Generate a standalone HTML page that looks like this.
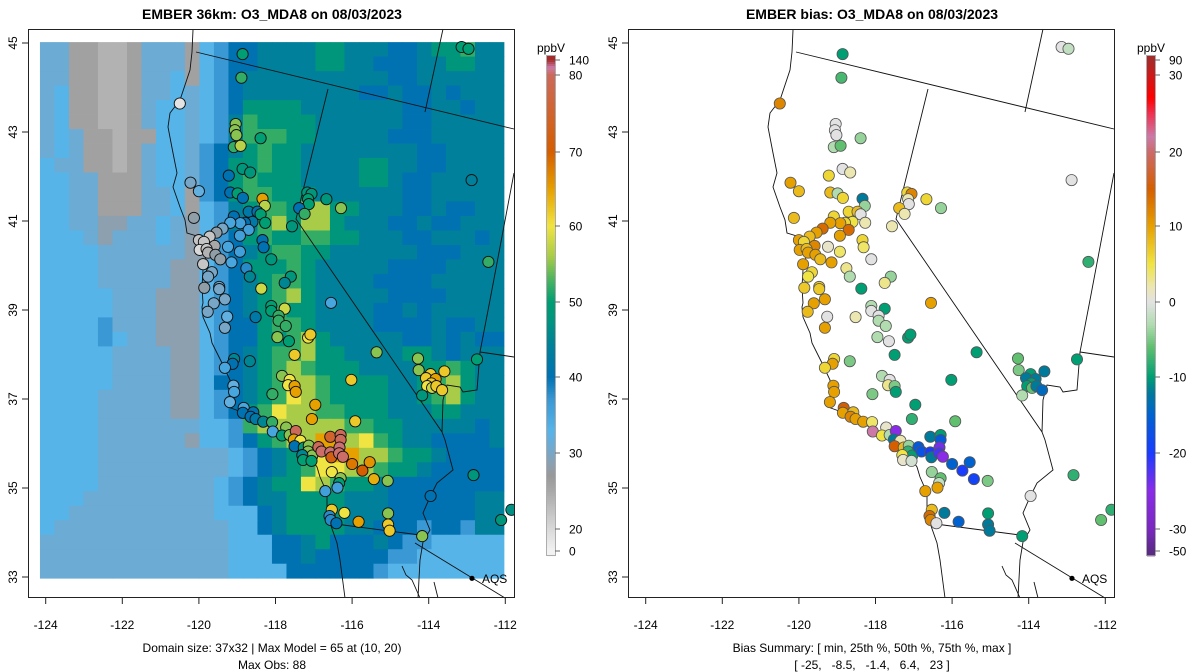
<!DOCTYPE html>
<html><head><meta charset="utf-8"><style>
html,body{margin:0;padding:0;background:#fff}
svg{display:block;font-family:"Liberation Sans",sans-serif}
</style></head><body>
<svg id="chart" width="1200" height="672" viewBox="0 0 1200 672" xmlns="http://www.w3.org/2000/svg">
<rect x="0" y="0" width="1200" height="672" fill="#fff"/>
<g id="left"></g>
<g id="right"></g>
</svg>
<script>
// ---------- data ----------
const gridRows = [
"ssgghhgsssglmbbtttteetttbbteentt",
"ssgghhgsssglmbbtttteettbbbtteett",
"ssgghhgsslglmbttttttttttbbtttttt",
"slgghhgsslslmbttttttttbbtbbtbttt",
"slgghhgsllslmbeeeetttttttbbttbtt",
"slgghhgsllslmtneeeettttttbbttttt",
"slsgghggllslmtnnneetttttbbbttttt",
"slsgghgsllsmbteneettttttttbbtttt",
"lssgghgsllsmbeeneetttteettbbtttt",
"llssgggsllsmbeneeetttteetbbttttt",
"llssgggsslgmbenneeettttttbbttttt",
"llssgggsslglmtenneyyeetttbbtbbtt",
"llsskksslskl mttnyeyyetttbbtbbttt".replace(" ",""),
"lllskssslsklmbeneenneetttbbtttbt",
"llllsssssskkmbtenneettttttbbbttt",
"llllssssskklmbeeenetttttbbbbtttt",
"llllssssskklmbtennettttbbbbttttt",
"lllllssskkklmbtenyetttttbbbbtttt",
"lllllssskkklmbteneettttbbtbtttt",
"llllmssskkklmbbennettttbbbbtbbt",
"llllmlsskkklmbbeenyetttttbbtbtb",
"lllllsssskklmbtennyeetttteetbtt",
"lllllsssskklmbtenyneeetttteenett",
"lllllsssskklbbtenyyneeeettenyett",
"llllssssskklmbtenYyneeeettenyett",
"llllssssskklmbenYyynneeettteettt",
"llllsssssssllmnyyyyyynneetttttbt",
"llllsssssskllmbenyyooyYnettbbbbt",
"llllssssssssslmbteyYooyyneetbbbb",
"llllssssssssslmbtenYYyyneetbbbbb",
"llllsssssssslmbteeYyneetbbbbbbbb",
"lllssssssssslmbtteeeetttbbbbbbtt",
"llsssssssssslllbteeeetttbbbbbbtt",
"lssssssssssssllbteeeettbbbmbbmtt",
"ssssssssssssslllbbtebbbtbmmlllll",
"ssssssssssssslllbbtbbbbbmmllllll",
"sssssssssssssllllbbbbbbmllllllll"];
const symbolKeys = ["h","g","k","s","l","m","b","t","e","n","y","Y","o","r"];
const symbolVals = [24,26,28.5,31,33,37,40,44,48,52,56,60,65,70];

const siteLon = [-118.86,-118.89,-120.50,-119.04,-119.06,-119.02,-119.09,-118.91,-118.39,-118.86,-118.66,-119.22,-120.22,-120.00,-119.18,-118.99,-118.85,-118.34,-118.28,-118.70,-118.47,-118.39,-119.09,-120.13,-118.60,-118.80,-118.92,-119.18,-118.27,-119.38,-118.70,-119.54,-119.72,-118.93,-120.00,-119.87,-118.34,-118.31,-119.59,-119.24,-119.98,-119.80,-118.93,-119.76,-119.57,-119.44,-118.11,-119.89,-119.15,-119.66,-119.76,-118.76,-118.67,-119.47,-119.47,-119.86,-118.37,-117.60,-117.76,-119.32,-119.61,-119.77,-119.26,-118.52,-118.11,-118.11,-117.76,-117.92,-117.92,-117.73,-119.32,-116.55,-117.17,-117.06,-117.15,-117.13,-117.38,-117.24,-116.67,-116.29,-117.57,-113.14,-112.96,-112.88,-112.44,-117.15,-117.09,-117.95,-117.65,-117.50,-115.36,-118.67,-119.08,-119.12,-119.32,-117.83,-117.63,-117.67,-117.50,-117.47,-118.08,-116.02,-119.10,-119.08,-119.19,-116.96,-117.05,-115.92,-118.83,-118.85,-118.58,-118.65,-118.52,-118.32,-118.09,-118.07,-117.72,-117.83,-117.63,-117.47,-117.52,-117.35,-117.50,-117.26,-117.13,-117.15,-117.04,-117.30,-117.28,-117.06,-116.57,-116.30,-116.30,-116.88,-116.80,-116.57,-116.54,-116.33,-116.34,-116.24,-116.00,-115.54,-115.73,-115.43,-115.07,-116.53,-116.30,-116.34,-116.38,-116.70,-116.53,-116.59,-116.56,-116.41,-116.20,-115.83,-115.06,-115.06,-115.02,-114.17,-113.95,-112.83,-112.11,-114.28,-114.26,-113.95,-114.07,-113.82,-113.93,-114.04,-113.91,-113.80,-114.17,-113.59,-113.65,-112.74,-111.84];
const siteLat = [44.75,44.22,43.64,43.18,43.04,42.93,42.66,42.69,42.86,42.17,42.09,42.02,41.86,41.67,41.64,41.62,41.52,41.50,41.34,41.21,41.21,41.15,41.10,41.07,40.98,40.96,40.95,40.96,40.96,40.83,40.80,40.74,40.65,40.67,40.57,40.53,40.57,40.41,40.44,40.42,40.35,40.37,40.31,40.29,40.24,40.14,40.14,40.03,40.07,39.85,39.75,39.94,39.75,39.52,39.47,39.50,39.48,39.75,39.61,39.24,39.15,38.96,38.85,38.84,39.09,38.98,39.03,38.87,38.76,38.64,38.60,39.16,41.64,41.61,41.49,41.38,41.29,41.16,41.49,41.29,40.88,44.91,44.87,41.92,40.08,38.38,38.45,38.39,38.30,37.99,38.05,37.85,37.90,37.79,37.70,37.52,37.43,37.31,37.29,37.16,37.11,37.43,37.30,37.16,36.93,36.87,36.55,36.50,36.80,36.69,36.70,36.60,36.55,36.49,36.48,36.27,36.36,36.18,36.19,36.28,36.09,36.06,35.94,35.91,35.95,35.82,35.73,35.74,35.63,35.61,36.15,36.19,36.08,35.92,35.82,35.80,35.69,35.91,35.78,35.70,35.54,35.58,35.39,35.20,35.16,35.36,35.22,35.11,35.01,34.93,34.51,34.37,34.28,34.21,34.44,34.24,34.43,34.18,34.04,33.92,34.82,35.29,34.28,37.91,37.65,37.56,37.47,37.45,37.35,37.29,37.25,37.29,37.08,37.62,37.20,37.89,34.51];
const siteObs = [50,52,12,55,55,55,52,57,50,48,48,40,30,32,40,50,40,65,57,42,40,50,40,28,42,40,36,35,50,30,36,28,22,36,22,22,40,40,25,35,20,22,36,24,28,28,48,22,35,30,30,38,45,30,30,28,58,48,45,30,30,30,32,42,50,50,58,52,52,52,30,35,48,48,50,50,40,52,48,55,48,50,50,44,52,60,62,55,50,62,55,45,45,40,35,55,60,60,65,65,52,62,32,35,32,65,65,62,35,40,40,40,42,45,52,35,55,50,55,80,65,60,40,50,55,55,55,45,50,50,75,80,80,80,85,90,72,90,85,85,68,66,70,64,55,60,55,50,36,36,62,38,38,40,60,65,55,62,62,55,40,48,48,55,55,62,62,65,62,60,58,62,48,62,62,50,47];
const siteBias = [-10,-7,12,0,0,0,-3,-6,-4,0,2,6,10,8,8,-3,6,-12,-4,6,8,0,6,8,5,6,10,10,2,14,14,10,8,10,10,6,6,4,12,1,10,8,4,10,10,8,0,10,10,6,5,3,-3,7,7,7,-10,-4,3,10,10,8,0,2,-3,0,-10,0,-3,-3,10,10,6,12,2,0,8,2,6,-4,2,0,-2,0,-8,-10,-10,-3,0,-10,-10,-5,6,10,6,-3,0,3,-5,-10,-5,-10,10,10,10,-10,-8,-6,15,10,8,12,10,10,4,22,1,5,-3,-25,-12,2,15,8,-4,-8,-10,5,1,-1,-12,-10,-16,-16,-17,-20,-12,-24,-22,-25,-15,-15,-20,-19,-5,-4,-6,-2,10,10,8,14,12,0,-12,-15,-10,-12,-12,-10,0,-8,-6,-6,-5,-10,-12,-12,-10,-10,-6,-12,-3,-12,-14,-10,-8];

const xTicks = [-124,-122,-120,-118,-116,-114,-112];
const yTicks = [33,35,37,39,41,43,45];
const obsTickVals = [0,20,30,40,50,60,70,80,140];
const obsTickLabels = ["0","20","30","40","50","60","70","80","140"];
const biasTickVals = [-50,-30,-20,-10,0,10,20,30,90];
const biasTickLabels = ["-50","-30","-20","-10","0","10","20","30","90"];

// ---------- scales ----------
const NS = "http://www.w3.org/2000/svg";
function pxL(lon){return 45.7+(lon+124)*38.3;}
function py(lat){return 43+(45-lat)*44.5;}
const LON0=-124.15, DLON=0.3786, LAT0=45.02, DLAT=0.3256;
const obsStops=[[0,"#f2f2f2"],[20,"#d9d9d9"],[25,"#a8a8a8"],[27,"#999999"],[28.5,"#8ca0b0"],[30,"#78a6c6"],[31.5,"#66aedb"],[33,"#56b4e9"],[37,"#3a98d4"],[40,"#0072b2"],[44,"#00809a"],[48,"#00967c"],[50,"#009e73"],[53,"#4db460"],[56,"#a8cc48"],[60,"#f0e442"],[65,"#e6a000"],[70,"#d55e00"],[80,"#cc6a5a"],[110,"#cc79a7"],[140,"#a52a2a"]];
const biasStops=[[-50,"#5b2a86"],[-30,"#7a28c0"],[-25,"#8a2be8"],[-20,"#1a3cff"],[-15,"#0062d0"],[-12,"#007a9a"],[-10,"#009e73"],[-6,"#60c070"],[-3,"#b0dcb0"],[0,"#e2e2e2"],[2,"#ece6b0"],[5,"#f0e442"],[10,"#e6a000"],[15,"#d55e00"],[20,"#cc6a6a"],[22,"#cc79a7"],[25,"#f03050"],[27,"#ff0000"],[30,"#cc1a1a"],[90,"#a52a2a"]];
function hex(c){return [parseInt(c.substr(1,2),16),parseInt(c.substr(3,2),16),parseInt(c.substr(5,2),16)];}
function cmap(stops,v){
  if(v<=stops[0][0])return stops[0][1];
  for(let i=1;i<stops.length;i++){
    if(v<=stops[i][0]){const a=hex(stops[i-1][1]),b=hex(stops[i][1]);const t=(v-stops[i-1][0])/(stops[i][0]-stops[i-1][0]);
      return "rgb("+a.map((x,k)=>Math.round(x+(b[k]-x)*t)).join(",")+")";}
  }
  return stops[stops.length-1][1];
}
function el(tag,attrs,parent){const e=document.createElementNS(NS,tag);for(const k in attrs)e.setAttribute(k,attrs[k]);parent.appendChild(e);return e;}

const coast="M193,30 L192,52 L190,70 L180,100 L170,113 L168,127 L173,153 L177,173 L173,187 L180,207 L185,220 L187,233 L200,237 L207,253 L203,270 L202,287 L203,303 L202,307 L203,317 L210,333 L212,343 L222,363 L230,380 L230,397 L228,407 L250,415 L263,423 L277,432 L293,438 L297,447 L310,457 L317,467 L320,477 L327,493 L327,510 L330,523 L337,543 L340,560 L345,598";
const borders=["M196,52 L514,129","M328,89 L296,219 L442,432 L445,440 L453,470 L437,483 L430,497 L423,513 L430,530 L423,542 L420,560 L418,598","M425,112 L443,29","M514,173 L490,300 L480,352 L477,390 L463,392 L460,387 L447,385 L443,400 L442,432","M480,352 L514,357","M328,523 L420,535","M415,543 L505,598","M402,566 L406,575 L412,580 L420,598","M434,582 L438,598"];

function drawPanel(g,off,isBias){
  const px=lon=>pxL(lon)+off;
  if(!isBias){
    const rg=el("g",{},g);
    
    
    gridRows.forEach((row,r)=>{
      let s=row; while(s.length<32)s+=s[s.length-1]; s=s.substr(0,32);
      for(let c=0;c<32;c++){
        const v=symbolVals[symbolKeys.indexOf(s[c])];
        const x0=px(LON0+c*DLON),x1=px(LON0+(c+1)*DLON),y0=py(LAT0-r*DLAT),y1=py(LAT0-(r+1)*DLAT);
        el("rect",{x:x0.toFixed(2),y:y0.toFixed(2),width:(x1-x0+0.4).toFixed(2),height:(y1-y0+0.4).toFixed(2),fill:cmap(obsStops,v)},rg);
      }
    });
  }
  const geo=el("g",{transform:"translate("+off+",0)",fill:"none",stroke:"#111","stroke-width":"0.9"},g);
  
  
  el("path",{d:coast},geo);
  borders.forEach(d=>el("path",{d:d},geo));
  const sg=el("g",{},g);
  
  
  for(let i=0;i<siteLon.length;i++){
    const x=px(siteLon[i]); if(x>514+off)continue;
    const c=el("circle",{cx:x.toFixed(1),cy:py(siteLat[i]).toFixed(1),r:"5.6",fill:isBias?cmap(biasStops,siteBias[i]):cmap(obsStops,siteObs[i]),stroke:isBias?"#555":"#111","stroke-width":isBias?"0.8":"0.9"},sg);
    
    
  }
  const aq=el("circle",{cx:px(-112.87),cy:py(32.97),r:"2.6",fill:"#000"},g);
  
  
  const at=el("text",{x:px(-112.87)+10,y:py(32.97)+4.5,"font-size":"12",fill:"#000"},g);at.textContent="AQS";
  
  
  el("rect",{x:514.5+off,y:25,width:22,height:580,fill:"#fff"},g);
  const box=el("rect",{x:28.5+off,y:29.5,width:486,height:568,fill:"none",stroke:"#222","stroke-width":"1"},g);
  
  
  xTicks.forEach(t=>{
    const x=px(t);
    el("line",{x1:x,y1:597.5,x2:x,y2:604,stroke:"#222"},g);
    const tx=el("text",{x:x,y:629,"font-size":"12","text-anchor":"middle",fill:"#000"},g);tx.textContent=String(t);
    
    
  });
  yTicks.forEach(t=>{
    const y=py(t);
    el("line",{x1:28.5+off,y1:y,x2:22+off,y2:y,stroke:"#222"},g);
    const tx=el("text",{x:0,y:0,"font-size":"12","text-anchor":"middle",fill:"#000",transform:"translate("+(17+off)+","+y+") rotate(-90)"},g);tx.textContent=String(t);
    
    
  });
  const title=el("text",{x:272+off,y:19,"font-size":"14","font-weight":"bold","text-anchor":"middle",fill:"#000"},g);
  title.textContent=isBias?"EMBER bias: O3_MDA8 on 08/03/2023":"EMBER 36km: O3_MDA8 on 08/03/2023";
  
  
  const s1=el("text",{x:272+off,y:652,"font-size":"12","text-anchor":"middle",fill:"#000"},g);
  s1.textContent=isBias?"Bias Summary: [ min, 25th %, 50th %, 75th %, max ]":"Domain size: 37x32 | Max Model = 65 at (10, 20)";
  
  
  const s2=el("text",{x:272+off,y:669,"font-size":"12","text-anchor":"middle",fill:"#000"},g);
  s2.textContent=isBias?"[ -25,   -8.5,   -1.4,   6.4,   23 ]":"Max Obs: 88";
  s2.style.whiteSpace="pre";
  
  
  const tv=isBias?biasTickVals:obsTickVals, tl=isBias?biasTickLabels:obsTickLabels, stops=isBias?biasStops:obsStops;
  const tickY=[551,529,453,377,302,226,152,75,60];
  const cb=el("g",{},g);
  
  
  const bx=547+off;
  function valAtY(y){
    if(y>=tickY[0])return tv[0];
    for(let i=1;i<tickY.length;i++){if(y>=tickY[i]){const t=(tickY[i-1]-y)/(tickY[i-1]-tickY[i]);return tv[i-1]+t*(tv[i]-tv[i-1]);}}
    return tv[tv.length-1];
  }
  for(let y=56;y<555;y+=2){el("rect",{x:bx,y:y,width:8,height:2.3,fill:cmap(stops,valAtY(y+1))},cb);}
  el("rect",{x:bx-0.5,y:55.5,width:9,height:500,fill:"none",stroke:"#999","stroke-width":"0.8"},cb);
  tv.forEach((v,i)=>{
    el("line",{x1:bx+8,y1:tickY[i],x2:bx+13,y2:tickY[i],stroke:"#666"},cb);
    const t=el("text",{x:bx+22,y:tickY[i]+4.5,"font-size":"12",fill:"#000"},cb);t.textContent=tl[i];
    
    
  });
  const u=el("text",{x:bx+4,y:52,"font-size":"12","text-anchor":"middle",fill:"#000"},cb);u.textContent="ppbV";
  
  
}
drawPanel(document.getElementById("left"),0,false);
drawPanel(document.getElementById("right"),600,true);
</script>
</body></html>
